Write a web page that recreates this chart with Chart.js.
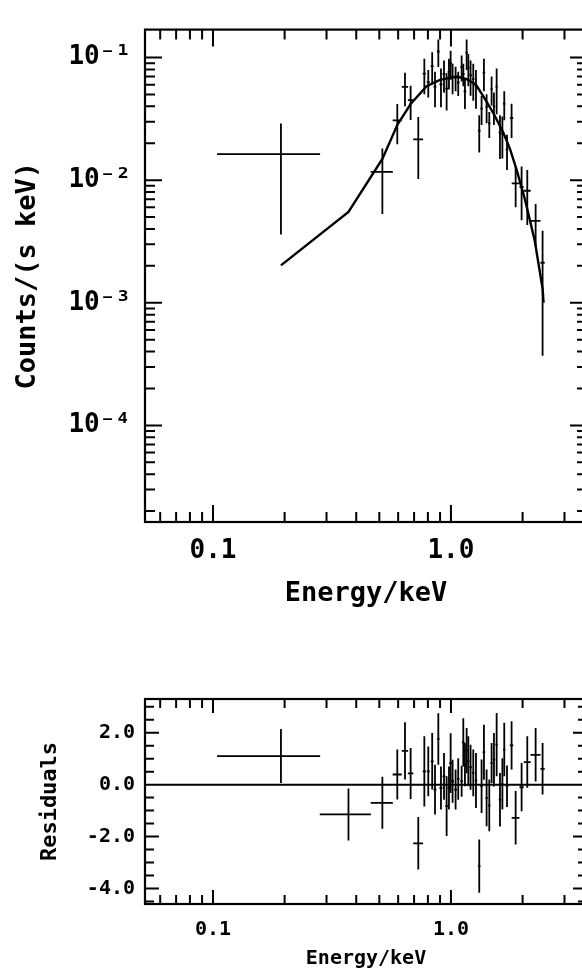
<!DOCTYPE html>
<html>
<head>
<meta charset="utf-8">
<script src="https://cdn.jsdelivr.net/npm/chart.js@4.4.0/dist/chart.umd.min.js"></script>
<style>
  html, body { margin: 0; padding: 0; background: #fff; overflow: hidden; }
  body { width: 582px; height: 970px; position: relative; }
  canvas { position: absolute; left: 0; }
  #spectre { top: 0; }
  #residus { top: 640px; }
</style>
</head>
<body>
<canvas id="spectre" width="600" height="640"></canvas>
<canvas id="residus" width="600" height="330"></canvas>
<script>
// Spectre X : données (counts/s/keV) + modèle, puis résidus

const energie = [0.193, 0.371, 0.515, 0.595, 0.641, 0.677, 0.729,
  0.773, 0.803, 0.834, 0.857, 0.885, 0.908, 0.935, 0.959, 0.981, 0.997,
  1.016, 1.046, 1.073, 1.109, 1.127, 1.145, 1.164, 1.183, 1.209, 1.241,
  1.274, 1.315, 1.345, 1.376, 1.412, 1.449, 1.482, 1.516, 1.556, 1.607,
  1.645, 1.675, 1.720, 1.798, 1.870, 1.981, 2.093, 2.269, 2.427];
const demiLargeur = [0.089, 0.090, 0.055, 0.026, 0.020, 0.018, 0.035,
  0.012, 0.012, 0.012, 0.012, 0.012, 0.013, 0.013, 0.013, 0.013, 0.014,
  0.014, 0.014, 0.014, 0.015, 0.015, 0.015, 0.015, 0.015, 0.016, 0.016,
  0.016, 0.017, 0.017, 0.017, 0.018, 0.018, 0.018, 0.019, 0.019, 0.020,
  0.020, 0.020, 0.022, 0.030, 0.070, 0.040, 0.070, 0.110, 0.050];
const comptes = [0.0163, null, 0.0117, 0.0307, 0.0577, 0.0450, 0.0215,
  0.0739, 0.0631, 0.0852, 0.0580, 0.1120, 0.0604, 0.0732, 0.0557, 0.0763, 0.0897,
  0.0696, 0.0686, 0.0626, 0.0838, 0.0737, 0.0530, 0.1097, 0.0826, 0.0717, 0.0668,
  0.0586, 0.0253, 0.0384, 0.0754, 0.0396, 0.0290, 0.0553, 0.0400, 0.0580, 0.0244,
  0.0240, 0.0420, 0.0178, 0.0320, 0.0094, 0.0088, 0.0082, 0.00465, 0.00212];
const erreurComptes = [0.0127, null, 0.0064, 0.0111, 0.0176, 0.0140, 0.0113,
  0.0238, 0.0159, 0.0250, 0.0187, 0.0283, 0.0211, 0.0215, 0.0187, 0.0214, 0.0239,
  0.0195, 0.0154, 0.0140, 0.0199, 0.0154, 0.0149, 0.0307, 0.0243, 0.0230, 0.0224,
  0.0204, 0.0085, 0.0102, 0.0222, 0.0105, 0.0069, 0.0147, 0.0118, 0.0235, 0.0095,
  0.0090, 0.0112, 0.0057, 0.0099, 0.0034, 0.0041, 0.0039, 0.00174, 0.00175];
const residus = [1.10, -1.15, -0.70, 0.39, 1.30, 0.43, -2.26,
  0.51, 0.51, 0.90, -0.19, 1.76, -0.13, 0.32, -0.83, -0.13, 0.83,
  0.13, -0.19, 0.22, 0.13, 1.63, 0.77, 1.31, 0.90, 0.67, 0.45,
  0.16, -3.14, -0.06, 1.25, -0.51, -0.80, 0.83, 0.96, 1.54, -0.58,
  0.03, 1.35, -0.06, 1.51, -1.28, -0.10, 0.87, 1.15, 0.61];
const erreurResidus = [1.04, 1.00, 1.00, 0.96, 1.10, 0.98, 1.01,
  1.35, 0.96, 1.09, 0.96, 0.99, 0.83, 0.90, 1.15, 0.83, 1.15,
  0.83, 0.77, 0.80, 0.60, 0.93, 0.83, 0.87, 0.96, 0.87, 0.90,
  1.06, 1.03, 1.03, 1.06, 1.09, 1.00, 0.77, 1.03, 1.22, 1.03,
  0.99, 1.03, 0.80, 0.93, 1.03, 0.93, 0.99, 1.03, 0.99];

const modeleEnergie = [0.193, 0.371, 0.515, 0.595, 0.677, 0.790, 0.899, 1.057,
  1.164, 1.274, 1.389, 1.516, 1.659, 1.770, 1.887, 2.045, 2.250, 2.430, 2.450];
const modeleComptes = [0.00202, 0.0055, 0.0149, 0.0282, 0.0418, 0.0583, 0.0658, 0.0700,
  0.0667, 0.0600, 0.0460, 0.0345, 0.0245, 0.0180, 0.0122, 0.0070, 0.0032, 0.00128, 0.00100];

const ticksEnergie = [0.1, 1.0];
const labelsEnergie = ['0.1', '1.0'];
const mineursEnergie = [0.06, 0.07, 0.08, 0.09, 0.2, 0.3, 0.4, 0.5, 0.6, 0.7, 0.8, 0.9, 2, 3];
const ticksComptes = [1e-4, 1e-3, 1e-2, 1e-1];
const labelsComptes = ['10\u207B\u2074', '10\u207B\u00B3', '10\u207B\u00B2', '10\u207B\u00B9'];
const ticksResidus = [-4, -2, 0, 2];
const labelsResidus = ['-4.0', '-2.0', '0.0', '2.0'];

const mineursComptes = [];
for (let d = 1e-5; d < 0.2; d *= 10) {
  for (let k = 2; k <= 9; k++) {
    const v = k * d;
    if (v > 1.63e-5 && v < 0.169) mineursComptes.push(v);
  }
}
const mineursResidus = [];
for (let v = -4.5; v <= 3.0; v += 0.5) {
  if (!ticksResidus.includes(v)) mineursResidus.push(v);
}

// tirets vers l'intérieur sur les quatre côtés + cadre
const tiretsInternes = {
  id: 'tiretsInternes',
  afterDraw(chart, args, o) {
    const { ctx, chartArea: a } = chart;
    const x = chart.scales.x, y = chart.scales.y;
    ctx.save();
    ctx.strokeStyle = '#000';
    ctx.lineWidth = o.epaisseur;
    ctx.beginPath();
    const vertical = (v, l) => {
      const px = x.getPixelForValue(v);
      ctx.moveTo(px, a.bottom); ctx.lineTo(px, a.bottom - l);
      ctx.moveTo(px, a.top); ctx.lineTo(px, a.top + l);
    };
    const horizontal = (v, l) => {
      const py = y.getPixelForValue(v);
      ctx.moveTo(a.left, py); ctx.lineTo(a.left + l, py);
      ctx.moveTo(a.right, py); ctx.lineTo(a.right - l, py);
    };
    o.majeursX.forEach(v => vertical(v, o.grand));
    o.mineursX.forEach(v => vertical(v, o.petit));
    o.majeursY.forEach(v => horizontal(v, o.grand));
    o.mineursY.forEach(v => horizontal(v, o.petit));
    if (o.zero) {
      const pz = y.getPixelForValue(0);
      ctx.moveTo(a.left, pz); ctx.lineTo(a.right, pz);
    }
    ctx.stroke();
    ctx.lineWidth = o.cadre;
    ctx.strokeRect(a.left, a.top, a.right - a.left, a.bottom - a.top);
    ctx.restore();
  }
};

// croix d'erreur (x ± dx, y ± dy)
const barresErreur = {
  id: 'barresErreur',
  afterDatasetsDraw(chart) {
    const { ctx, chartArea: a } = chart;
    const x = chart.scales.x, y = chart.scales.y;
    ctx.save();
    ctx.beginPath();
    ctx.rect(a.left, a.top, a.right - a.left, a.bottom - a.top);
    ctx.clip();
    ctx.strokeStyle = '#000';
    ctx.lineWidth = 1.8;
    chart.data.datasets.forEach(ds => {
      if (!ds.croix) return;
      ds.data.forEach(p => {
        const px = x.getPixelForValue(p.x);
        const py = y.getPixelForValue(p.y);
        const bas = p.y - p.dy > y.min ? y.getPixelForValue(p.y - p.dy) : a.bottom;
        ctx.beginPath();
        ctx.moveTo(x.getPixelForValue(p.x - p.dx), py);
        ctx.lineTo(x.getPixelForValue(p.x + p.dx), py);
        ctx.moveTo(px, y.getPixelForValue(p.y + p.dy));
        ctx.lineTo(px, bas);
        ctx.stroke();
      });
    });
    ctx.restore();
  }
};

const policeHaut = { family: 'DejaVu Sans Mono', size: 26, weight: 'bold' };
const titreHaut = { family: 'DejaVu Sans Mono', size: 27, weight: 'bold' };
const policeBas = { family: 'DejaVu Sans Mono', size: 20, weight: 'bold' };

const pointsSpectre = energie.map((e, i) => ({ x: e, y: comptes[i], dx: demiLargeur[i], dy: erreurComptes[i] }))
  .filter(p => p.y !== null);
const pointsResidus = energie.map((e, i) => ({ x: e, y: residus[i], dx: demiLargeur[i], dy: erreurResidus[i] }));

new Chart(document.getElementById('spectre'), {
  type: 'scatter',
  data: {
    datasets: [
      {
        label: 'modèle',
        data: modeleEnergie.map((e, i) => ({ x: e, y: modeleComptes[i] })),
        showLine: true, borderColor: '#000', borderWidth: 2.4, pointRadius: 0, fill: false
      },
      { label: 'données', data: pointsSpectre, pointRadius: 0, croix: true }
    ]
  },
  options: {
    responsive: false,
    animation: false,
    layout: { padding: { top: 13, right: 13, left: 0, bottom: 0 } },
    plugins: {
      legend: { display: false },
      tooltip: { enabled: false },
      tiretsInternes: {
        majeursX: ticksEnergie, mineursX: mineursEnergie,
        majeursY: ticksComptes, mineursY: mineursComptes,
        grand: 17, petit: 10, epaisseur: 2, cadre: 2.2
      }
    },
    scales: {
      x: {
        type: 'logarithmic', min: 0.0518, max: 3.73, bounds: 'data',
        afterFit(s) { s.height = 118; },
        afterBuildTicks(s) { s.ticks = ticksEnergie.map(v => ({ value: v })); },
        grid: { display: false, drawTicks: false },
        border: { display: false },
        ticks: {
          callback: (v, i) => labelsEnergie[i], color: '#000', font: policeHaut,
          padding: 14, maxRotation: 0, autoSkip: false
        },
        title: { display: true, text: 'Energy/keV', color: '#000', font: titreHaut, padding: { bottom: 30 } }
      },
      y: {
        type: 'logarithmic', min: 1.63e-5, max: 0.169, bounds: 'data',
        afterFit(s) { s.width = 145; },
        afterBuildTicks(s) { s.ticks = ticksComptes.map(v => ({ value: v })); },
        grid: { display: false, drawTicks: false },
        border: { display: false },
        ticks: { callback: (v, i) => labelsComptes[i], color: '#000', font: policeHaut, padding: 14, autoSkip: false },
        title: { display: true, text: 'Counts/(s keV)', color: '#000', font: titreHaut, padding: { top: 12 } }
      }
    }
  },
  plugins: [tiretsInternes, barresErreur]
});

new Chart(document.getElementById('residus'), {
  type: 'scatter',
  data: {
    datasets: [{ label: 'résidus', data: pointsResidus, pointRadius: 0, croix: true }]
  },
  options: {
    responsive: false,
    animation: false,
    layout: { padding: { top: 59, right: 13, left: 0, bottom: 0 } },
    plugins: {
      legend: { display: false },
      tooltip: { enabled: false },
      tiretsInternes: {
        majeursX: ticksEnergie, mineursX: mineursEnergie,
        majeursY: ticksResidus, mineursY: mineursResidus,
        grand: 14, petit: 9, epaisseur: 2, cadre: 2.2, zero: true
      }
    },
    scales: {
      x: {
        type: 'logarithmic', min: 0.0518, max: 3.73, bounds: 'data',
        afterFit(s) { s.height = 66; },
        afterBuildTicks(s) { s.ticks = ticksEnergie.map(v => ({ value: v })); },
        grid: { display: false, drawTicks: false },
        border: { display: false },
        ticks: {
          callback: (v, i) => labelsEnergie[i], color: '#000', font: policeBas,
          padding: 14, maxRotation: 0, autoSkip: false
        },
        title: { display: true, text: 'Energy/keV', color: '#000', font: { family: 'DejaVu Sans Mono', size: 20, weight: 'bold', lineHeight: 1 }, padding: { bottom: 1 } }
      },
      y: {
        type: 'linear', min: -4.6, max: 3.3, bounds: 'data',
        afterFit(s) { s.width = 145; },
        afterBuildTicks(s) { s.ticks = ticksResidus.map(v => ({ value: v })); },
        grid: { display: false, drawTicks: false },
        border: { display: false },
        ticks: { callback: (v, i) => labelsResidus[i], color: '#000', font: policeBas, padding: 10, autoSkip: false },
        title: { display: true, text: 'Residuals', color: '#000', font: { family: 'DejaVu Sans Mono', size: 22, weight: 'bold' }, padding: { top: 37 } }
      }
    }
  },
  plugins: [tiretsInternes, barresErreur]
});
</script>
</body>
</html>
